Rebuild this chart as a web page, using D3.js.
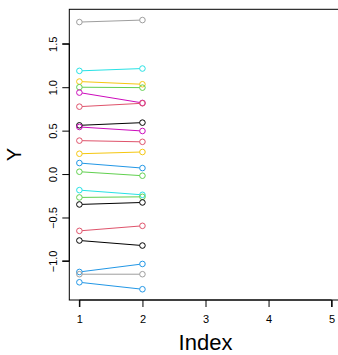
<!DOCTYPE html>
<html>
<head>
<meta charset="utf-8">
<script src="https://cdn.jsdelivr.net/npm/d3@7"></script>
<style>
  html, body { margin: 0; padding: 0; background: #fff; }
  svg { display: block; font-family: "Liberation Sans", Arial, sans-serif; }
</style>
</head>
<body>
<div id="chart"></div>
<script>
// Two-point series plotted against their index (matplot style, type "b")
const indexValues = [1, 2];
const seriesStart = [1.750, 1.188, 1.065, 1.000, 0.938, 0.776, 0.561, 0.542, 0.385, 0.234,
                     0.127, 0.027, -0.185, -0.269, -0.350, -0.654, -0.765, -1.127, -1.153, -1.246];
const seriesEnd   = [1.773, 1.215, 1.034, 0.995, 0.819, 0.815, 0.592, 0.496, 0.371, 0.254,
                     0.069, -0.019, -0.239, -0.262, -0.327, -0.596, -0.823, -1.035, -1.153, -1.326];
const seriesColor = ["#9E9E9E", "#28E2E5", "#F5C710", "#61D04F", "#CD0BBC", "#DF536B", "#000000", "#CD0BBC",
                     "#DF536B", "#F5C710", "#2297E6", "#61D04F", "#28E2E5", "#61D04F", "#000000", "#DF536B",
                     "#000000", "#2297E6", "#9E9E9E", "#2297E6"];
const xTicks = [1, 2, 3, 4, 5];
const yTicks = [-1.0, -0.5, 0.0, 0.5, 1.0, 1.5];
const xDomain = [1, 5];

const W = 338, H = 355;
const plot = { left: 69.3, top: 9.3, right: 341.7, bottom: 300 };

// R-style 4% axis extension
const allY = seriesStart.concat(seriesEnd);
const yMin = d3.min(allY), yMax = d3.max(allY);
const yPad = (yMax - yMin) * 0.04;
const xPad = (xDomain[1] - xDomain[0]) * 0.04;

const x = d3.scaleLinear().domain([xDomain[0] - xPad, xDomain[1] + xPad]).range([plot.left, plot.right]);
const y = d3.scaleLinear().domain([yMin - yPad, yMax + yPad]).range([plot.bottom, plot.top]);

const svg = d3.select("#chart").append("svg").attr("width", W).attr("height", H);

const series = seriesStart.map((s, i) => ({ values: [s, seriesEnd[i]], color: seriesColor[i] }));
const r = 2.8;

const g = svg.append("g");
series.forEach(d => {
  const p0 = [x(indexValues[0]), y(d.values[0])];
  const p1 = [x(indexValues[1]), y(d.values[1])];
  const dx = p1[0] - p0[0], dy = p1[1] - p0[1];
  const len = Math.hypot(dx, dy);
  const ux = dx / len, uy = dy / len;
  g.append("line")
    .attr("x1", p0[0] + ux * r).attr("y1", p0[1] + uy * r)
    .attr("x2", p1[0] - ux * r).attr("y2", p1[1] - uy * r)
    .attr("stroke", d.color).attr("stroke-width", 1);
  d.values.forEach((v, j) => {
    g.append("circle")
      .attr("cx", x(indexValues[j])).attr("cy", y(v)).attr("r", r)
      .attr("fill", "none").attr("stroke", d.color).attr("stroke-width", 1);
  });
});

// Box
svg.append("rect")
  .attr("x", plot.left).attr("y", plot.top)
  .attr("width", plot.right - plot.left).attr("height", plot.bottom - plot.top)
  .attr("fill", "none").attr("stroke", "#000").attr("stroke-width", 1);

// X axis
const xAxis = d3.axisBottom(x).tickValues(xTicks).tickSize(7).tickPadding(8).tickFormat(d3.format("d"));
const gx = svg.append("g").attr("transform", `translate(0,${plot.bottom})`).call(xAxis);
gx.select(".domain").attr("d", `M${x(xTicks[0])},7V0H${x(xTicks[xTicks.length - 1])}V7`);
gx.selectAll("text").attr("font-size", 11).attr("font-family", "Liberation Sans, Arial, sans-serif").attr("fill", "#000");

// Y axis
const yAxis = d3.axisLeft(y).tickValues(yTicks).tickSize(7).tickFormat(d => d3.format(".1f")(d).replace("-", "\u2212"));
const gy = svg.append("g").attr("transform", `translate(${plot.left},0)`).call(yAxis);
gy.select(".domain").attr("d", `M-7,${y(yTicks[0])}H0V${y(yTicks[yTicks.length - 1])}H-7`);
gy.selectAll(".tick text")
  .attr("x", null).attr("dy", null)
  .attr("transform", "translate(-12,0) rotate(-90)")
  .attr("text-anchor", "middle")
  .attr("font-size", 11).attr("font-family", "Liberation Sans, Arial, sans-serif").attr("fill", "#000");

// Axis titles
svg.append("text")
  .attr("x", (plot.left + plot.right) / 2).attr("y", 350)
  .attr("text-anchor", "middle").attr("font-size", 22).text("Index");
svg.append("text")
  .attr("transform", `translate(21,${(plot.top + plot.bottom) / 2}) rotate(-90)`)
  .attr("text-anchor", "middle").attr("font-size", 20).text("Y");
</script>
</body>
</html>
